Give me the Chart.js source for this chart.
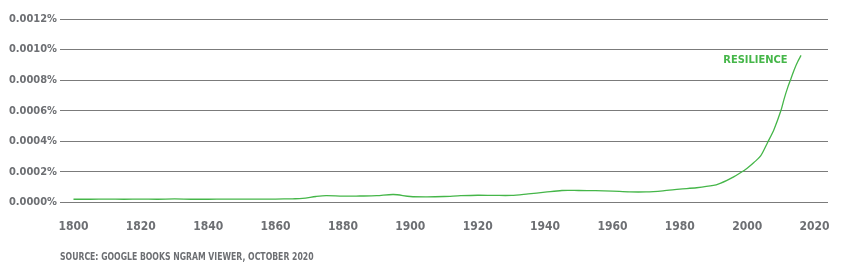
<!DOCTYPE html>
<html>
<head>
<meta charset="utf-8">
<script src="https://cdn.jsdelivr.net/npm/chart.js@4"></script>
<style>
  html, body { margin: 0; padding: 0; background: #fff; }
  #wrap { position: relative; width: 850px; height: 275px; }
  #source {
    position: absolute; left: 60px; top: 251px;
    font-family: 'DejaVu Sans Condensed', 'DejaVu Sans', sans-serif;
    font-weight: bold; font-size: 10px; font-stretch: condensed;
    color: #6d6f73; white-space: nowrap;
    transform: scaleX(0.86); transform-origin: left center;
  }
</style>
</head>
<body>
<div id="wrap">
  <canvas id="ngram" width="850" height="275"></canvas>
  <div id="source">SOURCE: GOOGLE BOOKS NGRAM VIEWER, OCTOBER 2020</div>
</div>
<script>
const seriesName = 'RESILIENCE';

const years = [1800, 1805, 1810, 1815, 1820, 1825, 1830, 1835, 1840, 1845, 1850, 1855, 1860, 1865,
  1868, 1872, 1875, 1880, 1885, 1890, 1895, 1900, 1905, 1910, 1915, 1920, 1925, 1930, 1935, 1940,
  1945, 1950, 1955, 1960, 1965, 1970, 1975, 1980, 1985, 1990, 1992, 1994, 1996, 1998, 2000, 2002,
  2004, 2006, 2008, 2010, 2011, 2012, 2013, 2014, 2015, 2016];

// frequency in percent
const resilience = [0.000022, 0.000022, 0.000023, 0.000022, 0.000023, 0.000022, 0.000024, 0.000022,
  0.000022, 0.000023, 0.000023, 0.000023, 0.000023, 0.000025, 0.000027, 0.000040, 0.000046, 0.000042,
  0.000043, 0.000045, 0.000053, 0.000040, 0.000038, 0.000040, 0.000045, 0.000048, 0.000047, 0.000047,
  0.000057, 0.000068, 0.000079, 0.000079, 0.000078, 0.000075, 0.000070, 0.000070, 0.000077, 0.000088,
  0.000097, 0.000112, 0.000126, 0.000145, 0.000168, 0.000195, 0.000225, 0.000262, 0.000305, 0.000390,
  0.000480, 0.000600, 0.000680, 0.000750, 0.000810, 0.000870, 0.000920, 0.000962];

const xTicks = [1800, 1820, 1840, 1860, 1880, 1900, 1920, 1940, 1960, 1980, 2000, 2020];
const yTicks = [0, 0.0002, 0.0004, 0.0006, 0.0008, 0.0010, 0.0012];

const FONT = "'DejaVu Sans Condensed', 'DejaVu Sans', sans-serif";
const GREY = '#6d6f73';
const GREEN = '#45b649';

// where the series name sits (right edge, middle), in data units
const labelAt = { year: 2012, value: 0.00093 };

const seriesLabel = {
  id: 'seriesLabel',
  afterDatasetsDraw(chart) {
    const { ctx, scales } = chart;
    const x = scales.x.getPixelForValue(labelAt.year);
    const y = scales.y.getPixelForValue(labelAt.value);
    ctx.save();
    ctx.font = 'bold condensed 11px ' + FONT;
    ctx.fillStyle = GREEN;
    ctx.textAlign = 'right';
    ctx.textBaseline = 'middle';
    ctx.fillText(seriesName, x, y);
    ctx.restore();
  }
};

const ctx = document.getElementById('ngram').getContext('2d');

new Chart(ctx, {
  type: 'line',
  data: {
    datasets: [{
      label: seriesName,
      data: years.map((yr, i) => ({ x: yr, y: resilience[i] })),
      borderColor: GREEN,
      borderWidth: 1.3,
      pointRadius: 0,
      tension: 0.3,
      fill: false
    }]
  },
  options: {
    responsive: false,
    animation: false,
    layout: { padding: { top: 19, right: 22, bottom: 24, left: 0 } },
    plugins: {
      legend: { display: false },
      tooltip: { enabled: false }
    },
    scales: {
      x: {
        type: 'linear',
        min: 1796,
        max: 2024,
        afterBuildTicks: (scale) => { scale.ticks = xTicks.map(v => ({ value: v })); },
        grid: { display: false, drawTicks: false },
        border: { display: false },
        ticks: {
          color: GREY,
          padding: 17,
          maxRotation: 0,
          autoSkip: false,
          font: { family: FONT, size: 12, weight: 'bold condensed' },
          callback: (v) => String(v)
        }
      },
      y: {
        min: 0,
        max: 0.0012,
        afterBuildTicks: (scale) => { scale.ticks = yTicks.map(v => ({ value: v })); },
        afterFit: (scale) => { scale.width = 60; },
        grid: { color: '#7b7b7b', lineWidth: 1, drawTicks: false },
        border: { display: false },
        ticks: {
          color: GREY,
          padding: 3,
          font: { family: FONT, size: 11, weight: 'bold condensed' },
          callback: (v) => v.toFixed(4) + '%'
        }
      }
    }
  },
  plugins: [seriesLabel]
});
</script>
</body>
</html>
